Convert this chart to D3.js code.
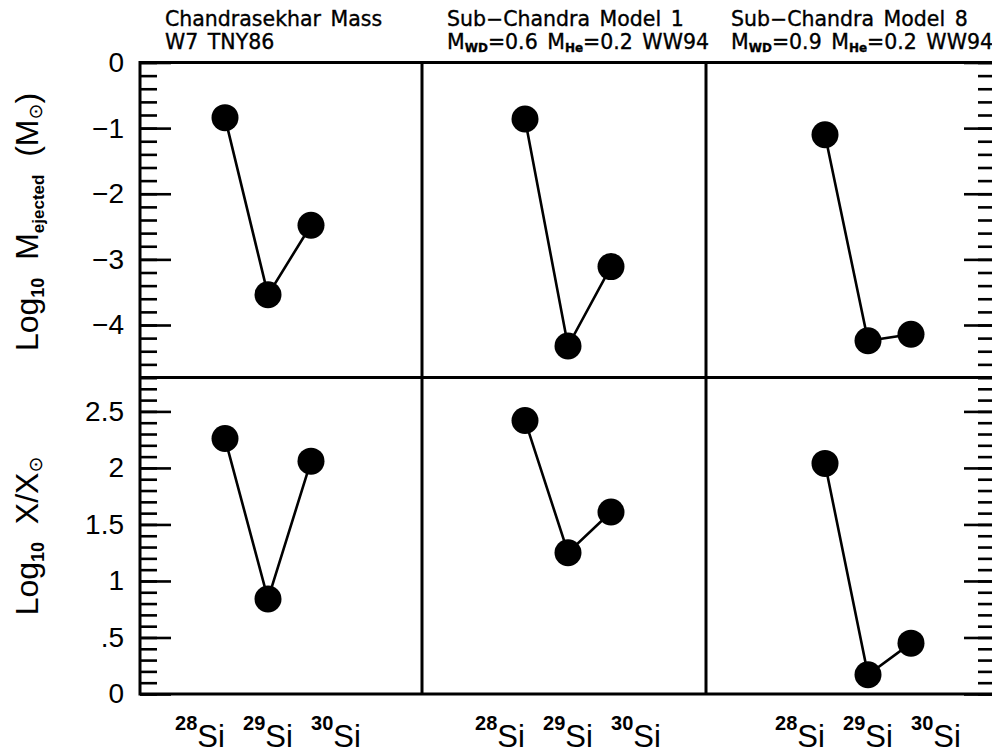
<!DOCTYPE html>
<html><head><meta charset="utf-8">
<script src="https://cdn.jsdelivr.net/npm/d3@7"></script>
<style>body{margin:0;background:#fff}svg{display:block}</style>
</head><body><svg id="c" width="992" height="753"></svg>
<script>
// ---------- data ----------
const isotopeMass = [28, 29, 30];
const isotopeSup = ["28", "29", "30"];
const isotopeSym = "Si";
const modelTitles = ["Chandrasekhar Mass", "Sub\u2212Chandra Model 1", "Sub\u2212Chandra Model 8"];
const subtitleW7 = [["W7 TNY86", 0]];
const subtitleSub1 = [["M", 0], ["WD", 1], ["=0.6 M", 0], ["He", 1], ["=0.2 WW94", 0]];
const subtitleSub8 = [["M", 0], ["WD", 1], ["=0.9 M", 0], ["He", 1], ["=0.2 WW94", 0]];
const logMejW7 = [-0.84, -3.54, -2.48];
const logMejSub1 = [-0.86, -4.32, -3.11];
const logMejSub8 = [-1.10, -4.24, -4.14];
const logXW7 = [2.26, 0.84, 2.06];
const logXSub1 = [2.42, 1.25, 1.61];
const logXSub8 = [2.04, 0.17, 0.45];
const topTickValues = [0, -1, -2, -3, -4];
const topTickLabels = ["0", "\u22121", "\u22122", "\u22123", "\u22124"];
const botTickValues = [0, 0.5, 1, 1.5, 2, 2.5];
const botTickLabels = ["0", ".5", "1", "1.5", "2", "2.5"];

const subtitles = [subtitleW7, subtitleSub1, subtitleSub8];
const topSeries = [logMejW7, logMejSub1, logMejSub8];
const botSeries = [logXW7, logXSub1, logXSub8];

// ---------- layout ----------
const colEdges = [140, 422, 706, 995];
const rowTop = 62.5, rowMid = 377.5, rowBot = 694;
const panelCenter = [268, 568, 868];
const ptHalf = 43, labHalf = 68;
const FONT = "'Liberation Sans', Arial, Helvetica, sans-serif";
const TFONT = "'DejaVu Sans', Verdana, sans-serif";

const svg = d3.select("#c");
svg.append("rect").attr("width", 992).attr("height", 753).attr("fill", "#fff");

const yTop = d3.scaleLinear().domain([-4.8, 0]).range([rowMid, rowTop]);
const yBot = d3.scaleLinear().domain([0, 2.8]).range([rowBot, rowMid]);

const minorTop = d3.range(-24, 1).map(k => k * 0.2);
const minorBot = d3.range(0, 29).map(k => k * 0.1);

function styleAxis(g) {
  g.select(".domain").remove();
  g.selectAll(".tick line").attr("stroke", "#000").attr("stroke-width", 2.6);
  g.attr("font-family", FONT).attr("font-size", 28);
  g.selectAll(".tick text").attr("fill", "#000");
}

[[yTop, topTickValues, topTickLabels, minorTop], [yBot, botTickValues, botTickLabels, minorBot]].forEach(([y, tv, tl, mn]) => {
  svg.append("g").attr("transform", `translate(${colEdges[0]},0)`)
    .call(d3.axisLeft(y).tickValues(mn).tickSize(-17).tickFormat("")).call(styleAxis);
  svg.append("g").attr("transform", `translate(${colEdges[0]},0)`)
    .call(d3.axisLeft(y).tickValues(tv).tickSize(-31).tickPadding(16).tickFormat((d, i) => tl[i])).call(styleAxis);
  svg.append("g").attr("transform", `translate(${colEdges[3]},0)`)
    .call(d3.axisRight(y).tickValues(mn).tickSize(-17).tickFormat("")).call(styleAxis);
  svg.append("g").attr("transform", `translate(${colEdges[3]},0)`)
    .call(d3.axisRight(y).tickValues(tv).tickSize(-31).tickFormat("")).call(styleAxis);
});

// frame
const frame = svg.append("g").attr("stroke", "#000").attr("stroke-width", 3).attr("fill", "none");
frame.append("rect").attr("x", colEdges[0]).attr("y", rowTop)
  .attr("width", colEdges[3] - colEdges[0]).attr("height", rowBot - rowTop);
frame.append("line").attr("x1", colEdges[0]).attr("x2", colEdges[3]).attr("y1", rowMid).attr("y2", rowMid);
[colEdges[1], colEdges[2]].forEach(x => frame.append("line").attr("x1", x).attr("x2", x).attr("y1", rowTop).attr("y2", rowBot));

// panels
for (let p = 0; p < 3; p++) {
  const xPt = d3.scaleLinear().domain([28, 30]).range([panelCenter[p] - ptHalf, panelCenter[p] + ptHalf]);
  const xLab = d3.scaleLinear().domain([28, 30]).range([panelCenter[p] - labHalf, panelCenter[p] + labHalf]);
  [[yTop, topSeries[p]], [yBot, botSeries[p]]].forEach(([y, vals]) => {
    const pts = isotopeMass.map((m, i) => [xPt(m), y(vals[i])]);
    svg.append("path").attr("d", d3.line()(pts)).attr("fill", "none").attr("stroke", "#000").attr("stroke-width", 2.6);
    svg.selectAll(null).data(pts).enter().append("circle")
      .attr("cx", d => d[0]).attr("cy", d => d[1]).attr("r", 13.5).attr("fill", "#000");
  });
  isotopeMass.forEach((m, i) => {
    const t = svg.append("text").attr("x", xLab(m)).attr("y", 747).attr("text-anchor", "middle")
      .attr("font-family", FONT).attr("fill", "#000");
    t.append("tspan").attr("font-size", 20).attr("font-weight", "bold").attr("dy", -17).text(isotopeSup[i]);
    t.append("tspan").attr("font-size", 31).attr("dy", 17).text(isotopeSym);
  });
  const tx = colEdges[p] + 25;
  svg.append("text").attr("x", tx).attr("y", 26).attr("font-family", TFONT).attr("font-size", 20.5)
    .attr("word-spacing", 3).attr("stroke", "#000").attr("stroke-width", 0.35)
    .style("white-space", "pre").attr("fill", "#000").text(modelTitles[p]);
  const st = svg.append("text").attr("x", tx).attr("y", 49).attr("font-family", TFONT).attr("font-size", 20.5)
    .attr("word-spacing", 3).attr("stroke", "#000").attr("stroke-width", 0.35)
    .style("white-space", "pre").attr("fill", "#000");
  let shifted = 0;
  subtitles[p].forEach(([s, sub]) => {
    const dy = sub ? 3 - shifted : -shifted;
    shifted = sub ? 3 : 0;
    const ts = st.append("tspan").attr("dy", dy).text(s);
    if (sub) ts.attr("font-size", 12).attr("font-weight", "bold");
  });
}

// y titles
function yTitle(cy, parts) {
  const t = svg.append("text").attr("transform", `translate(38,${cy}) rotate(-90)`).attr("text-anchor", "middle")
    .attr("font-family", FONT).attr("font-size", 32).style("white-space", "pre").attr("fill", "#000");
  let shifted = 0;
  parts.forEach(([s, kind]) => {
    let dy = 0;
    if (kind === 0) { dy = -shifted; shifted = 0; }
    else if (kind === 2) { dy = 4 - shifted; shifted = 4; }
    else { dy = 6 - shifted; shifted = 6; }
    const ts = t.append("tspan").attr("dy", dy).text(s);
    if (kind === 1) ts.attr("font-size", 18).attr("font-weight", "bold");
    if (kind === 2) ts.attr("font-size", 19).attr("font-family", TFONT);
    if (kind === 3) ts.attr("font-size", 17).attr("font-weight", "bold");
  });
}
yTitle(222, [["Log", 0], ["10", 1], ["  M", 0], ["ejected", 3], ["  (M", 0], ["\u2299", 2], [")", 0]]);
yTitle(536, [["Log", 0], ["10", 1], ["  X/X", 0], ["\u2299", 2]]);
</script></body></html>
